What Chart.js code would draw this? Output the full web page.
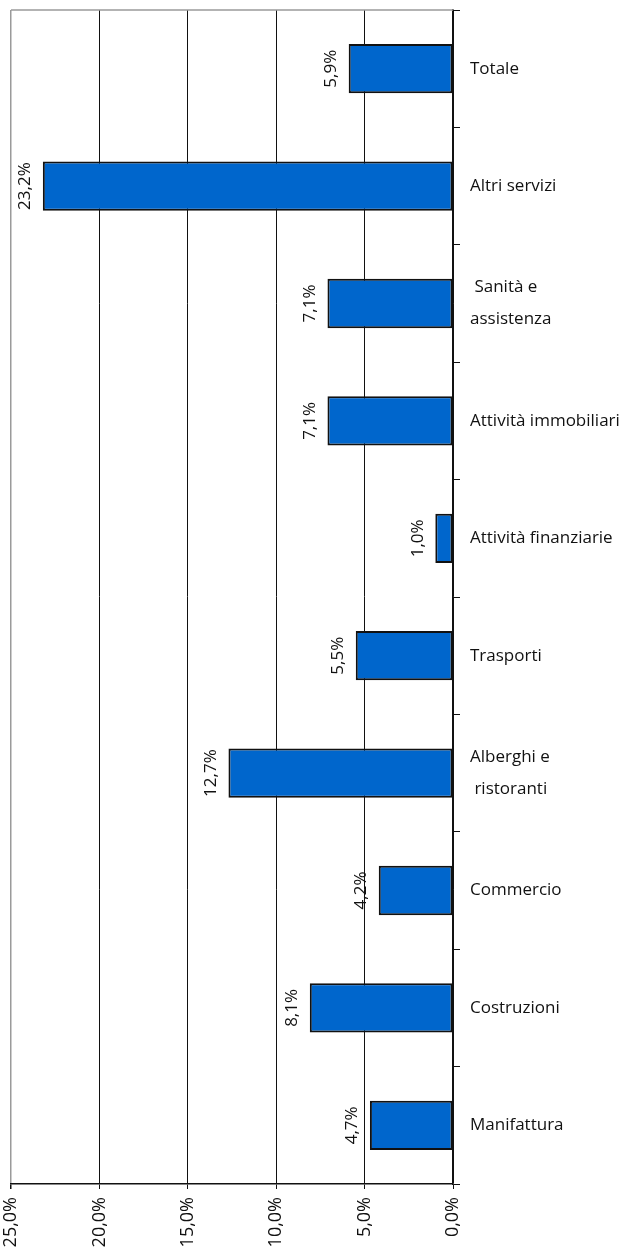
<!DOCTYPE html>
<html>
<head>
<meta charset="utf-8">
<script src="https://cdn.jsdelivr.net/npm/chart.js@4"></script>
<style>
  html, body { margin: 0; padding: 0; background: #fff; }
  #wrap { width: 623px; height: 1253px; position: relative; }
</style>
</head>
<body>
<div id="wrap"><canvas id="sectorChart"></canvas></div>
<script>
// Sectors, top to bottom
const sectors = [
    'Totale',
    'Altri servizi',
    [' Sanità e', 'assistenza'],
    'Attività immobiliari',
    'Attività finanziarie',
    'Trasporti',
    ['Alberghi e', ' ristoranti'],
    'Commercio',
    'Costruzioni',
    'Manifattura'
];
const shares = [5.9, 23.2, 7.1, 7.1, 1.0, 5.5, 12.7, 4.2, 8.1, 4.7];
const axisMin = 0;
const axisMax = 25;
const axisStep = 5;

const fontFamily = '"Open Sans", "Noto Sans", sans-serif';

function pct(v) {
    return v.toFixed(1).replace('.', ',') + '%';
}

// Gray frame on top and value labels written along the bars
const frameAndLabels = {
    id: 'frameAndLabels',
    afterDatasetsDraw(chart) {
        const ctx = chart.ctx;
        const area = chart.chartArea;
        ctx.save();
        ctx.strokeStyle = '#9a9a9a';
        ctx.lineWidth = 1.5;
        ctx.beginPath();
        ctx.moveTo(area.left, area.top);
        ctx.lineTo(area.right, area.top);
        ctx.stroke();

        const meta = chart.getDatasetMeta(0);
        ctx.fillStyle = '#111';
        ctx.font = '17px ' + fontFamily;
        ctx.textAlign = 'center';
        ctx.textBaseline = 'bottom';
        meta.data.forEach(function(bar, i) {
            ctx.save();
            ctx.translate(bar.x - 9, bar.y);
            ctx.rotate(-Math.PI / 2);
            ctx.fillText(pct(shares[i]), 0, 0);
            ctx.restore();
        });
        ctx.restore();
    }
};

new Chart(document.getElementById('sectorChart'), {
    type: 'bar',
    data: {
        labels: sectors,
        datasets: [{
            data: shares,
            backgroundColor: '#0066cc',
            borderColor: '#111',
            borderWidth: 2,
            borderSkipped: false,
            categoryPercentage: 1,
            barPercentage: 0.42
        }]
    },
    options: {
        indexAxis: 'y',
        responsive: true,
        maintainAspectRatio: false,
        animation: false,
        layout: { padding: { top: 10, left: 11, right: 0, bottom: 0 } },
        plugins: {
            legend: { display: false },
            tooltip: { enabled: false }
        },
        scales: {
            x: {
                reverse: true,
                min: axisMin,
                max: axisMax,
                ticks: {
                    stepSize: axisStep,
                    minRotation: 90,
                    maxRotation: 90,
                    padding: 8,
                    color: '#111',
                    font: { family: fontFamily, size: 18 },
                    callback: function(v) { return pct(v); }
                },
                grid: {
                    color: function(c) {
                        return c.tick && c.tick.value === axisMax ? '#9a9a9a' : '#111';
                    },
                    lineWidth: function(c) {
                        return c.tick && c.tick.value === axisMax ? 1.5 : 1;
                    },
                    tickLength: 5,
                    tickColor: '#111'
                },
                border: { display: true, color: '#111', width: 1.5 },
                afterFit: function(scale) { scale.height = 69; }
            },
            y: {
                position: 'right',
                ticks: {
                    padding: 10,
                    color: '#111',
                    font: { family: fontFamily, size: 17, lineHeight: 1.88 }
                },
                grid: {
                    drawOnChartArea: false,
                    drawTicks: true,
                    tickLength: 7,
                    color: '#111'
                },
                border: { display: true, color: '#111', width: 1.5 },
                afterFit: function(scale) {
                    scale.width = 170;
                    scale.paddingTop = 0;
                    scale.paddingBottom = 0;
                }
            }
        }
    },
    plugins: [frameAndLabels]
});
</script>
</body>
</html>
